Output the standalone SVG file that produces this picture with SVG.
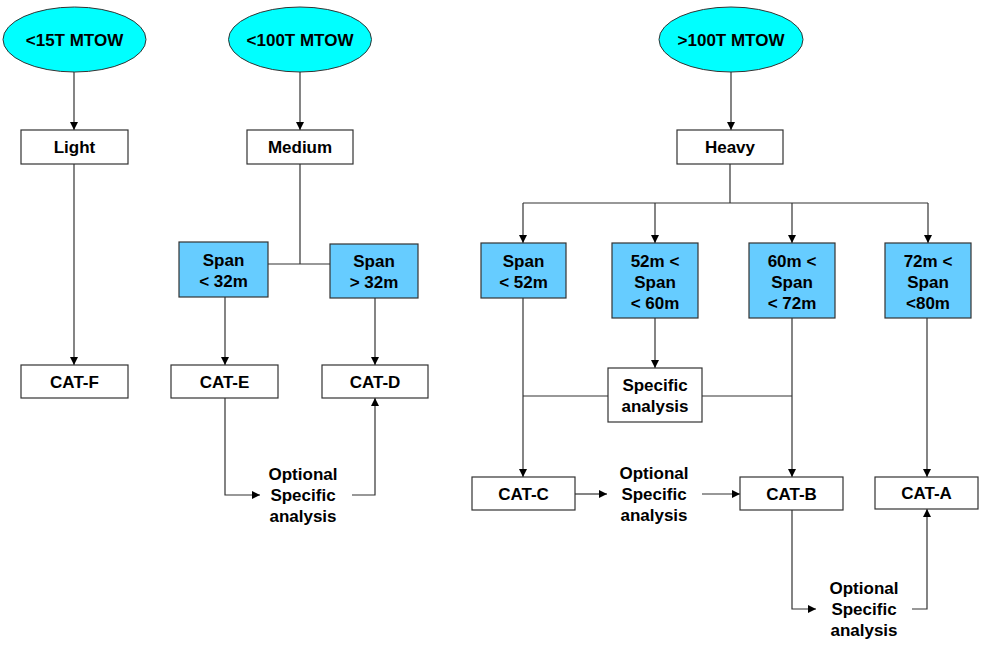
<svg xmlns="http://www.w3.org/2000/svg" width="1003" height="645" viewBox="0 0 1003 645">
<defs>
<marker id="ah" viewBox="0 0 10 10" refX="10" refY="5" markerWidth="8" markerHeight="8" markerUnits="userSpaceOnUse" orient="auto">
<path d="M0,0 L10,5 L0,10 Z" fill="#000"/>
</marker>
<style>
.e{fill:#00FFFF;stroke:#333;stroke-width:1}
.b{fill:#fff;stroke:#333;stroke-width:1.2}
.s{fill:#66CCFF;stroke:#333;stroke-width:1.2}
.t{font-family:"Liberation Sans",Arial,sans-serif;font-weight:bold;font-size:17px;fill:#000;text-anchor:middle}
.c{fill:none;stroke:#333;stroke-width:1.2}
.a{marker-end:url(#ah)}
</style>
</defs>
<rect width="1003" height="645" fill="#fff"/>
<g id="connectors">
<path class="c a" d="M74,72 V130"/>
<path class="c a" d="M300,72 V130"/>
<path class="c a" d="M731,72 V130"/>
<path class="c a" d="M74,164 V365"/>
<path class="c" d="M300,164 V264 M268,264 H330"/>
<path class="c a" d="M225,297 V365"/>
<path class="c a" d="M375,298 V365"/>
<path class="c a" d="M225,398 V495 H260"/>
<path class="c a" d="M352,495 H375 V398"/>
<path class="c" d="M730,164 V203 M523,203 H928"/>
<path class="c a" d="M523,203 V243"/>
<path class="c a" d="M655,203 V243"/>
<path class="c a" d="M792,203 V243"/>
<path class="c a" d="M928,203 V243"/>
<path class="c a" d="M523,298 V477"/>
<path class="c a" d="M655,318 V368"/>
<path class="c a" d="M792,318 V477"/>
<path class="c a" d="M927,318 V477"/>
<path class="c" d="M523,396 H608 M702,396 H792"/>
<path class="c a" d="M575,494 H607"/>
<path class="c a" d="M702,494 H740"/>
<path class="c a" d="M792,510 V609 H816"/>
<path class="c a" d="M912,609 H927 V509"/>
</g>
<g id="n15t"><ellipse class="e" cx="74.5" cy="39.5" rx="71.5" ry="32.5"/><text class="t" x="74.5" y="45.5">&lt;15T MTOW</text></g>
<g id="n100t"><ellipse class="e" cx="300" cy="39.5" rx="71.5" ry="32.5"/><text class="t" x="300" y="45.5">&lt;100T MTOW</text></g>
<g id="ngt100t"><ellipse class="e" cx="731" cy="39.5" rx="72" ry="32.5"/><text class="t" x="731" y="45.5">&gt;100T MTOW</text></g>
<g id="light"><rect class="b" x="21" y="130" width="107" height="34"/><text class="t" x="74.5" y="153">Light</text></g>
<g id="medium"><rect class="b" x="247" y="130" width="106" height="34"/><text class="t" x="300" y="153">Medium</text></g>
<g id="heavy"><rect class="b" x="677" y="130" width="106" height="34"/><text class="t" x="730" y="153">Heavy</text></g>
<g id="span32lt"><rect class="s" x="179" y="242" width="89" height="55"/><text class="t" x="223.5" y="266">Span</text><text class="t" x="223.5" y="287">&lt; 32m</text></g>
<g id="span32gt"><rect class="s" x="330" y="244" width="88" height="54"/><text class="t" x="374" y="267">Span</text><text class="t" x="374" y="288">&gt; 32m</text></g>
<g id="catf"><rect class="b" x="21" y="365" width="107" height="33"/><text class="t" x="74.5" y="387.5">CAT-F</text></g>
<g id="cate"><rect class="b" x="171" y="365" width="107" height="33"/><text class="t" x="224.5" y="387.5">CAT-E</text></g>
<g id="catd"><rect class="b" x="322" y="365" width="106" height="33"/><text class="t" x="375" y="387.5">CAT-D</text></g>
<g id="opt1"><text class="t" x="303" y="480">Optional</text><text class="t" x="303" y="501">Specific</text><text class="t" x="303" y="522">analysis</text></g>
<g id="span52"><rect class="s" x="481" y="243" width="85" height="55"/><text class="t" x="523.5" y="267">Span</text><text class="t" x="523.5" y="288">&lt; 52m</text></g>
<g id="span60"><rect class="s" x="612" y="243" width="86" height="75"/><text class="t" x="655" y="267">52m &lt;</text><text class="t" x="655" y="288">Span</text><text class="t" x="655" y="309">&lt; 60m</text></g>
<g id="span72"><rect class="s" x="749" y="243" width="86" height="75"/><text class="t" x="792" y="267">60m &lt;</text><text class="t" x="792" y="288">Span</text><text class="t" x="792" y="309">&lt; 72m</text></g>
<g id="span80"><rect class="s" x="885" y="243" width="86" height="75"/><text class="t" x="928" y="267">72m &lt;</text><text class="t" x="928" y="288">Span</text><text class="t" x="928" y="309">&lt;80m</text></g>
<g id="specific"><rect class="b" x="608" y="368" width="94" height="54"/><text class="t" x="655" y="391">Specific</text><text class="t" x="655" y="412">analysis</text></g>
<g id="catc"><rect class="b" x="472" y="477" width="103" height="33"/><text class="t" x="523.5" y="499.5">CAT-C</text></g>
<g id="opt2"><text class="t" x="654" y="479">Optional</text><text class="t" x="654" y="500">Specific</text><text class="t" x="654" y="521">analysis</text></g>
<g id="catb"><rect class="b" x="740" y="477" width="103" height="33"/><text class="t" x="791.5" y="499.5">CAT-B</text></g>
<g id="cata"><rect class="b" x="875" y="477" width="103" height="32"/><text class="t" x="926.5" y="499">CAT-A</text></g>
<g id="opt3"><text class="t" x="864" y="594">Optional</text><text class="t" x="864" y="615">Specific</text><text class="t" x="864" y="636">analysis</text></g>
</svg>
